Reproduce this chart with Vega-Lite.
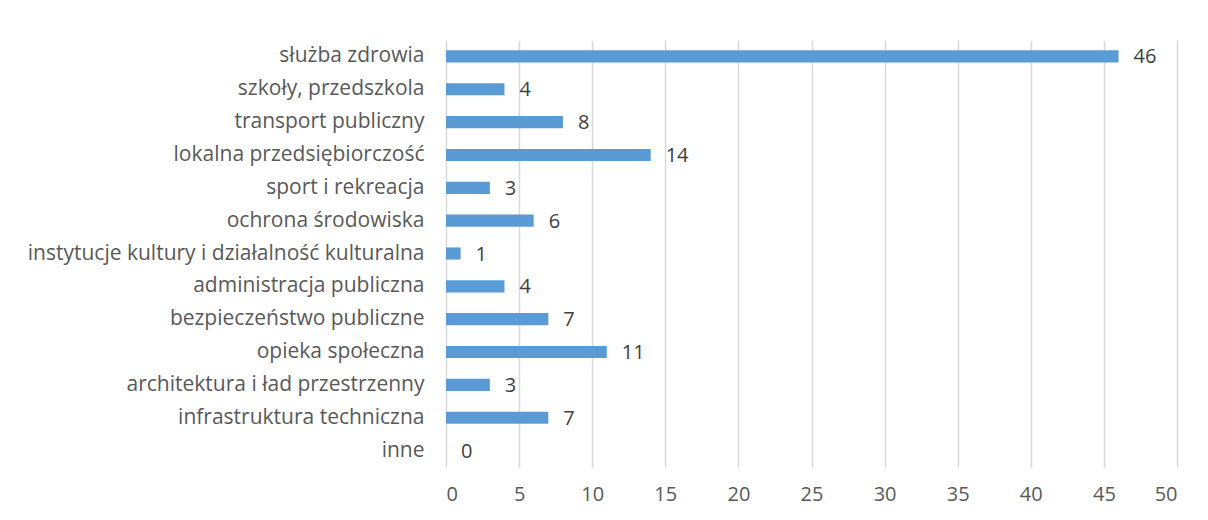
{
  "$schema": "https://vega.github.io/schema/vega-lite/v6.json",
  "autosize": "none",
  "width": 731,
  "height": 427,
  "padding": {"left": 446, "top": 40, "right": 31, "bottom": 53},
  "background": "white",
  "config": {
    "view": {"stroke": null},
    "font": "Open Sans"
  },
  "data": {
    "values": [
      {"kategoria": "służba zdrowia", "liczba": 46},
      {"kategoria": "szkoły, przedszkola", "liczba": 4},
      {"kategoria": "transport publiczny", "liczba": 8},
      {"kategoria": "lokalna przedsiębiorczość", "liczba": 14},
      {"kategoria": "sport i rekreacja", "liczba": 3},
      {"kategoria": "ochrona środowiska", "liczba": 6},
      {"kategoria": "instytucje kultury i działalność kulturalna", "liczba": 1},
      {"kategoria": "administracja publiczna", "liczba": 4},
      {"kategoria": "bezpieczeństwo publiczne", "liczba": 7},
      {"kategoria": "opieka społeczna", "liczba": 11},
      {"kategoria": "architektura i ład przestrzenny", "liczba": 3},
      {"kategoria": "infrastruktura techniczna", "liczba": 7},
      {"kategoria": "inne", "liczba": 0}
    ]
  },
  "encoding": {
    "y": {
      "field": "kategoria",
      "type": "nominal",
      "sort": null,
      "scale": {"paddingInner": 0.63, "paddingOuter": 0.315},
      "axis": {
        "title": null,
        "ticks": false,
        "domain": false,
        "labelPadding": 22,
        "labelFontSize": 21,
        "labelColor": "#595959",
        "labelFont": "Open Sans",
        "labelLimit": 600
      }
    },
    "x": {
      "field": "liczba",
      "type": "quantitative",
      "scale": {"domain": [0, 50], "nice": false},
      "axis": {
        "title": null,
        "values": [0, 5, 10, 15, 20, 25, 30, 35, 40, 45, 50],
        "ticks": false,
        "domain": false,
        "grid": true,
        "gridColor": "#D9D9D9",
        "gridWidth": 1.5,
        "labelPadding": 17,
        "labelFontSize": 20,
        "labelColor": "#595959",
        "labelFont": "Open Sans"
      }
    }
  },
  "layer": [
    {"mark": {"type": "bar", "color": "#5B9BD5"}},
    {
      "mark": {"type": "text", "align": "left", "dx": 15, "dy": 1, "fontSize": 20, "color": "#404040", "font": "Open Sans"},
      "encoding": {"text": {"field": "liczba", "type": "quantitative"}}
    }
  ]
}
